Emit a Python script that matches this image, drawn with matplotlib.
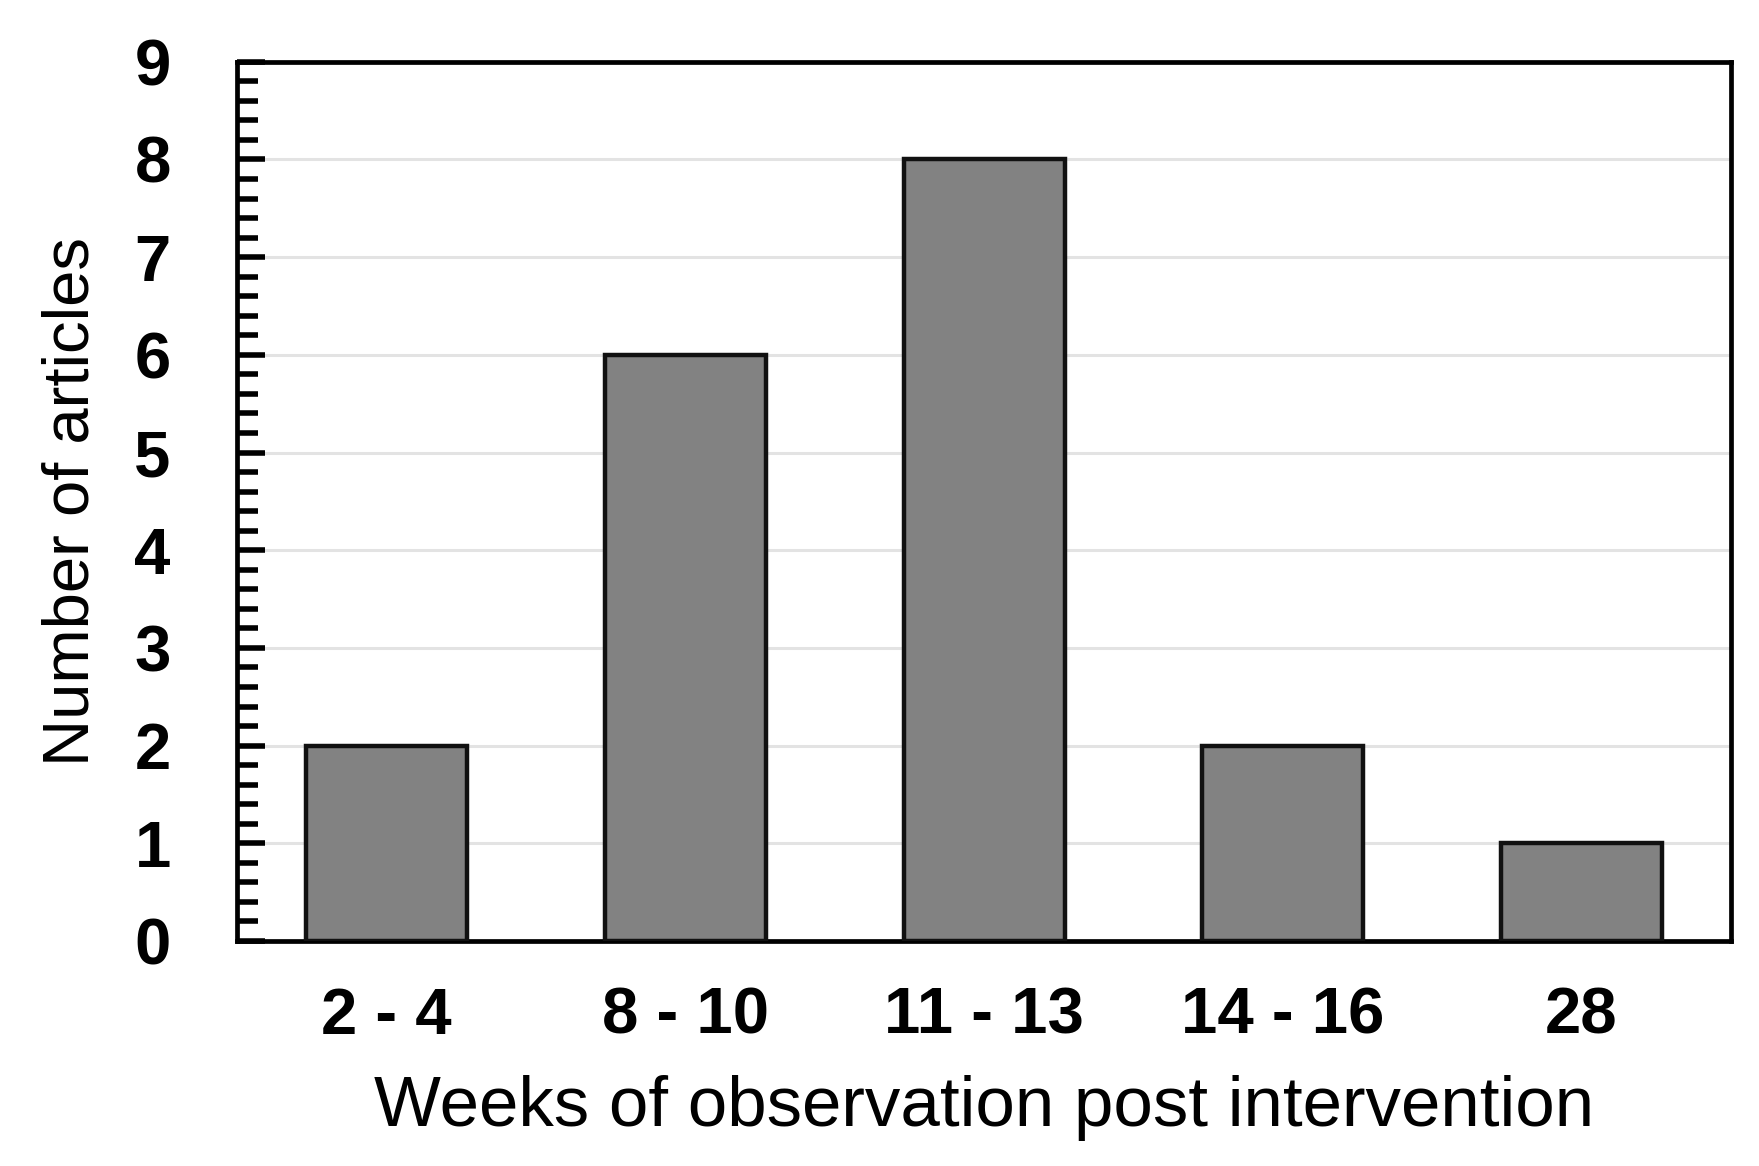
import matplotlib.pyplot as plt
from matplotlib.ticker import MultipleLocator

# data
weeks = ['2 - 4', '8 - 10', '11 - 13', '14 - 16', '28']
articles = [2, 6, 8, 2, 1]

plt.rcParams['font.family'] = ['Liberation Sans', 'DejaVu Sans']

fig = plt.figure(figsize=(17.59, 11.66), dpi=100)
ax = fig.add_axes([0.135, 0.193, 0.849, 0.754])

x = range(len(weeks))
ax.bar(x, articles, width=0.54, color='#828282', edgecolor='#111111', linewidth=3.2, zorder=3)

ax.set_xlim(-0.5, 4.5)
ax.set_ylim(0, 9)
ax.set_xticks(list(x))
ax.set_xticklabels(weeks, fontsize=47, fontweight='bold')
ax.yaxis.set_major_locator(MultipleLocator(1))
ax.yaxis.set_minor_locator(MultipleLocator(0.2))
for lab in ax.get_yticklabels():
    lab.set_fontsize(47)
    lab.set_fontweight('bold')

ax.tick_params(axis='x', length=0, pad=33)
ax.tick_params(axis='y', which='major', direction='in', length=20, width=4, pad=48)
ax.tick_params(axis='y', which='minor', direction='in', length=15, width=4)

ax.grid(axis='y', color='#e3e3e3', linewidth=2.2, zorder=0)
ax.set_axisbelow(True)

for s in ax.spines.values():
    s.set_linewidth(3.4)
    s.set_color('black')

ax.set_xlabel('Weeks of observation post intervention', fontsize=51, labelpad=20)
ax.set_ylabel('Number of articles', fontsize=47, labelpad=24)

fig.savefig('out.png', dpi=100)
